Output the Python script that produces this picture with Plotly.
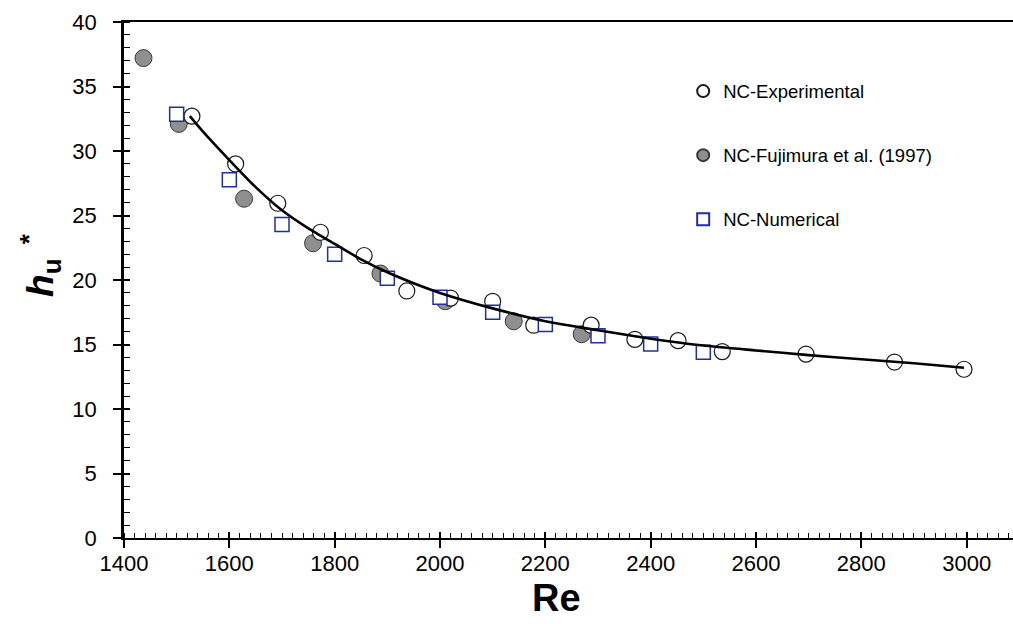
import plotly.graph_objects as go

# ---------------- data ----------------
exp_re = [1529, 1612, 1692, 1773, 1856, 1937, 2020, 2100, 2178, 2287, 2370, 2452, 2536, 2695, 2863, 2995]
exp_h  = [32.7, 29.0, 25.95, 23.7, 21.9, 19.15, 18.6, 18.35, 16.5, 16.5, 15.4, 15.3, 14.45, 14.26, 13.64, 13.08]

fuj_re = [1437, 1504, 1628, 1759, 1887, 2010, 2140, 2269]
fuj_h  = [37.2, 32.1, 26.3, 22.85, 20.5, 18.35, 16.8, 15.8]

num_re = [1500, 1600, 1700, 1800, 1900, 2000, 2100, 2200, 2300, 2400, 2500]
num_h  = [32.85, 27.78, 24.3, 22.0, 20.13, 18.66, 17.5, 16.56, 15.68, 15.04, 14.39]

fit_re = [1525, 1550, 1600, 1650, 1700, 1750, 1800, 1850, 1900, 1950, 2000, 2100, 2200,
          2300, 2400, 2500, 2600, 2700, 2800, 2900, 2995]
fit_h  = [32.7, 31.5, 29.3, 27.2, 25.4, 24.0, 22.8, 21.6, 20.6, 19.75, 19.0, 17.8, 16.8,
          16.1, 15.45, 14.92, 14.54, 14.18, 13.86, 13.55, 13.2]

x_ticks = [1400, 1600, 1800, 2000, 2200, 2400, 2600, 2800, 3000]
y_ticks = [0, 5, 10, 15, 20, 25, 30, 35, 40]

FONT = "Liberation Sans, Arial, Helvetica, sans-serif"

fig = go.Figure()

fig.add_trace(go.Scatter(
    x=fuj_re, y=fuj_h, mode="markers", name="NC-Fujimura et al. (1997)",
    legendrank=2, legendgroup="b",
    marker=dict(symbol="circle", size=17, color="#8f8f8f",
                line=dict(color="#3a3a3a", width=1)),
))
fig.add_trace(go.Scatter(
    x=exp_re, y=exp_h, mode="markers", name="NC-Experimental",
    legendrank=1, legendgroup="a",
    marker=dict(symbol="circle", size=16, color="rgba(255,255,255,1)",
                line=dict(color="#1a1a1a", width=1.2)),
))
fig.add_trace(go.Scatter(
    x=num_re, y=num_h, mode="markers", name="NC-Numerical",
    legendrank=3, legendgroup="c",
    marker=dict(symbol="square", size=14, color="rgba(255,255,255,1)",
                line=dict(color="#1f2f9f", width=1.5)),
))
fig.add_trace(go.Scatter(
    x=fit_re, y=fit_h, mode="lines", showlegend=False,
    line=dict(color="black", width=2.6, shape="spline", smoothing=0.6),
))
# empty trace so the overlay axes (inner halves of the major ticks) get drawn
fig.add_trace(go.Scatter(x=[], y=[], xaxis="x2", yaxis="y2", showlegend=False, hoverinfo="skip"))

XR = [1400, 3088]
YR = [0, 40]

fig.update_layout(
    width=1013, height=624,
    margin=dict(l=124, r=0, t=22, b=86),
    paper_bgcolor="white", plot_bgcolor="white",
    font=dict(family=FONT, color="black", size=19),
    showlegend=True,
    legend=dict(
        x=0.629, y=0.902, xanchor="left", yanchor="top",
        bgcolor="rgba(0,0,0,0)", borderwidth=0,
        font=dict(family=FONT, size=18.5, color="black"),
        itemsizing="constant", tracegroupgap=37,
    ),
    xaxis=dict(
        range=XR, tickvals=x_ticks, ticks="outside", ticklen=8, tickwidth=1.5,
        tickcolor="black", showgrid=False, zeroline=False,
        showline=True, linecolor="black", linewidth=2, mirror=True,
        tickfont=dict(family=FONT, size=22), ticklabelstandoff=-3,
        minor=dict(dtick=20, ticks="inside", ticklen=5, tickwidth=1, tickcolor="black", showgrid=False),
    ),
    yaxis=dict(
        range=YR, tickvals=y_ticks, ticks="outside", ticklen=8, tickwidth=1.5,
        tickcolor="black", showgrid=False, zeroline=False,
        showline=True, linecolor="black", linewidth=2.5,
        tickfont=dict(family=FONT, size=22), ticklabelstandoff=12,
        minor=dict(dtick=1, ticks="inside", ticklen=6, tickwidth=1, tickcolor="black", showgrid=False),
    ),
    xaxis2=dict(
        range=XR, overlaying="x", anchor="y2", side="bottom", tickvals=x_ticks,
        ticks="inside", ticklen=6, tickwidth=1.5, tickcolor="black",
        showticklabels=False, showgrid=False, zeroline=False, showline=False,
    ),
    yaxis2=dict(
        range=YR, overlaying="y", anchor="x2", side="left", tickvals=y_ticks,
        ticks="inside", ticklen=6, tickwidth=1.5, tickcolor="black",
        showticklabels=False, showgrid=False, zeroline=False, showline=False,
    ),
    annotations=[
        dict(text="<b>Re</b>", xref="paper", yref="paper", x=0.486, y=-0.117,
             xanchor="center", yanchor="middle", showarrow=False,
             font=dict(family=FONT, size=38, color="black")),
        dict(text="<b><i>h</i></b><sub><b>u</b></sub><sup><b>&nbsp;&nbsp;*</b></sup>",
             xref="paper", yref="paper", x=-0.094, y=0.53, textangle=-90,
             xanchor="center", yanchor="middle", showarrow=False,
             font=dict(family=FONT, size=37, color="black")),
    ],
)

fig.write_html("out.html")
